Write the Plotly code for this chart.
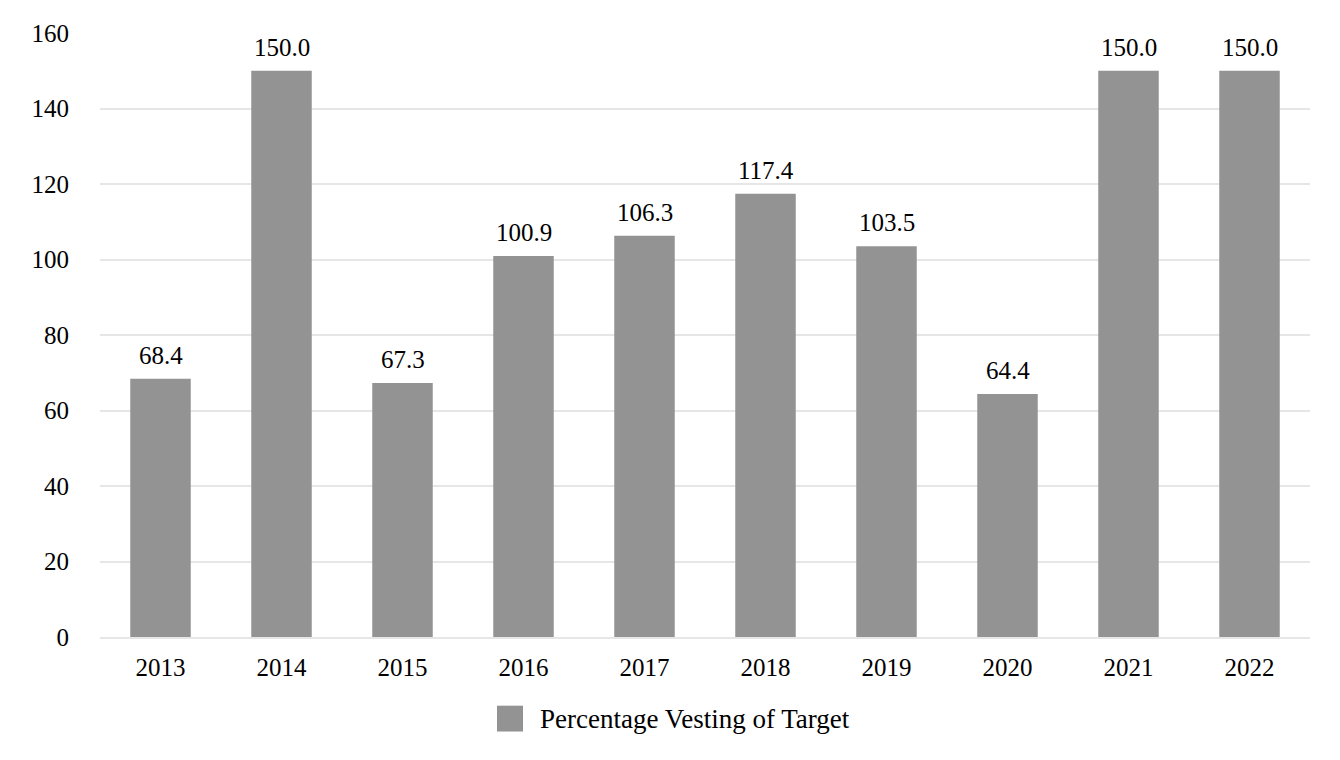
import plotly.graph_objects as go

years = ["2013", "2014", "2015", "2016", "2017", "2018", "2019", "2020", "2021", "2022"]
values = [68.4, 150.0, 67.3, 100.9, 106.3, 117.4, 103.5, 64.4, 150.0, 150.0]
series_name = "Percentage Vesting of Target"
y_ticks = [0, 20, 40, 60, 80, 100, 120, 140, 160]

FONT = "Liberation Serif, Times New Roman, serif"
BAR_COLOR = "#939393"

fig = go.Figure()
fig.add_trace(go.Bar(
    x=years, y=values, name=series_name,
    marker=dict(color=BAR_COLOR, line=dict(width=0)),
    width=0.5,
    showlegend=False,
))

for i, v in enumerate(values):
    fig.add_annotation(x=i, y=v, xref="x", yref="y", text=f"{v:.1f}",
                       showarrow=False, yanchor="bottom", yshift=8,
                       font=dict(family=FONT, size=25, color="#000000"))

# legend (manual, to get the large square swatch)
fig.add_shape(type="rect", xref="paper", yref="paper",
              x0=0.3281, x1=0.3496, y0=-0.1565, y1=-0.1137,
              fillcolor=BAR_COLOR, line=dict(width=0))
fig.add_annotation(xref="paper", yref="paper", x=0.3620, y=-0.1351,
                   xanchor="left", yanchor="middle", text=series_name,
                   showarrow=False, font=dict(family=FONT, size=27, color="#000000"))

fig.update_layout(
    width=1340, height=760,
    margin=dict(l=92, r=38, t=20, b=131),
    paper_bgcolor="white", plot_bgcolor="white",
    font=dict(family=FONT, size=25, color="#000000"),
    showlegend=False,
    xaxis=dict(type="category", range=[-0.5, len(years) - 0.5], showgrid=False,
               showline=True, linecolor="#e6e6e6",
               linewidth=2, ticks="", ticklabelstandoff=7),
    yaxis=dict(range=[0, 160], tickvals=y_ticks, showgrid=True, gridcolor="#e6e6e6",
               gridwidth=2, zeroline=False, showline=False, ticks="",
               ticklabelstandoff=30),
)

fig.write_html("out.html")
